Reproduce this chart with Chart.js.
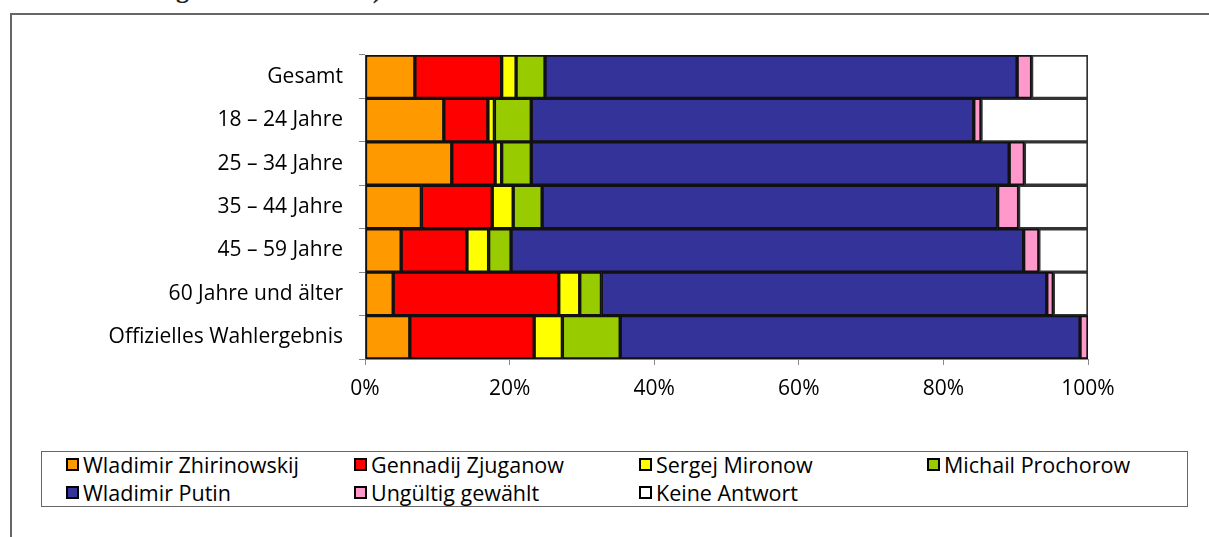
<!DOCTYPE html>
<html>
<head>
<meta charset="utf-8">
<script src="https://cdn.jsdelivr.net/npm/chart.js@4"></script>
<style>
    body { margin: 0; background: #fff; width: 1209px; height: 537px; overflow: hidden; position: relative; font-family: 'Open Sans', sans-serif; }
    #title-cut { position: absolute; left: 140px; top: -25px; font: bold 26px 'Liberation Serif', serif; color: #222; white-space: nowrap; }
    #frame { position: absolute; left: 10px; top: 13px; right: -5px; bottom: -5px; border-top: 2px solid #666; border-left: 2px solid #666; }
    #chart-wrap { position: absolute; left: 0; top: 0; width: 1209px; height: 430px; }
    #legend { position: absolute; left: 41px; top: 451px; width: 1145px; height: 54px; border: 1px solid #666; }
    .leg-item { position: absolute; display: flex; align-items: center; font-size: 21.5px; color: #000; white-space: nowrap; }
    .leg-box { width: 9px; height: 9px; border: 2px solid #000; margin-right: 4px; }
</style>
</head>
<body>
<div id="title-cut">umgekommen waren)</div>
<div id="frame"></div>
<div id="chart-wrap"><canvas id="chart" width="1209" height="430"></canvas></div>
<div id="legend"></div>
<script>
    const categories = ['Gesamt', '18 – 24 Jahre', '25 – 34 Jahre', '35 – 44 Jahre', '45 – 59 Jahre', '60 Jahre und älter', 'Offizielles Wahlergebnis'];
    const seriesNames = ['Wladimir Zhirinowskij', 'Gennadij Zjuganow', 'Sergej Mironow', 'Michail Prochorow', 'Wladimir Putin', 'Ungültig gewählt', 'Keine Antwort'];
    const seriesColors = ['#FF9900', '#FF0000', '#FFFF00', '#99CC00', '#333399', '#FF99CC', '#FFFFFF'];

    const zhirinowskij = [6.9, 10.9, 12.0, 7.8, 5.0, 3.9, 6.2];
    const zjuganow = [12.0, 6.1, 6.0, 9.8, 9.1, 22.9, 17.2];
    const mironow = [2.0, 0.9, 0.9, 2.9, 3.0, 2.9, 3.9];
    const prochorow = [4.0, 5.1, 4.1, 4.0, 3.1, 3.0, 8.0];
    const putin = [65.3, 61.2, 66.1, 63.0, 70.9, 61.6, 63.6];
    const ungueltig = [2.0, 1.0, 2.1, 2.9, 2.1, 0.9, 1.1];
    const keineAntwort = [7.8, 14.8, 8.8, 9.6, 6.8, 4.8, 0];

    const xMax = 100;
    const xStep = 20;

    const seriesValues = [zhirinowskij, zjuganow, mironow, prochorow, putin, ungueltig, keineAntwort];

    const datasets = seriesNames.map((name, i) => ({
        label: name,
        data: seriesValues[i],
        backgroundColor: seriesColors[i],
        borderColor: i === 6 ? '#333' : '#111',
        borderWidth: 2,
        borderSkipped: false,
        categoryPercentage: 1.0,
        barPercentage: 1.0
    }));

    const ctx = document.getElementById('chart').getContext('2d');
    new Chart(ctx, {
        type: 'bar',
        data: { labels: categories, datasets: datasets },
        options: {
            indexAxis: 'y',
            responsive: false,
            animation: false,
            layout: { padding: { top: 55, right: 121, left: 0, bottom: 0 } },
            plugins: {
                legend: { display: false },
                tooltip: { enabled: false }
            },
            scales: {
                x: {
                    stacked: true,
                    min: 0,
                    max: xMax,
                    afterFit: (scale) => { scale.height = 71; },
                    border: { display: true, color: '#888', width: 1 },
                    grid: { drawOnChartArea: false, drawTicks: true, tickLength: 6, color: '#888' },
                    ticks: {
                        stepSize: xStep,
                        padding: 11,
                        color: '#000',
                        font: { family: "'Open Sans', sans-serif", size: 21 },
                        callback: (v) => v + '%'
                    }
                },
                y: {
                    stacked: true,
                    afterFit: (scale) => { scale.width = 365; },
                    border: { display: true, color: '#888', width: 1 },
                    grid: { drawOnChartArea: false, drawTicks: true, tickLength: 6, color: '#888', offset: true },
                    ticks: {
                        padding: 16,
                        color: '#000',
                        font: { family: "'Open Sans', sans-serif", size: 21 }
                    }
                }
            }
        }
    });

    // legend: 4 columns, 2 rows
    const legend = document.getElementById('legend');
    const colX = [24, 312, 597, 885];
    const rowY = [13, 41];
    seriesNames.forEach((name, i) => {
        const item = document.createElement('div');
        item.className = 'leg-item';
        item.style.left = colX[i % 4] + 'px';
        item.style.top = (rowY[Math.floor(i / 4)] - 15) + 'px';
        item.style.height = '28px';
        item.innerHTML = `<span class="leg-box" style="background:${seriesColors[i]}"></span>${name}`;
        legend.appendChild(item);
    });
</script>
</body>
</html>
